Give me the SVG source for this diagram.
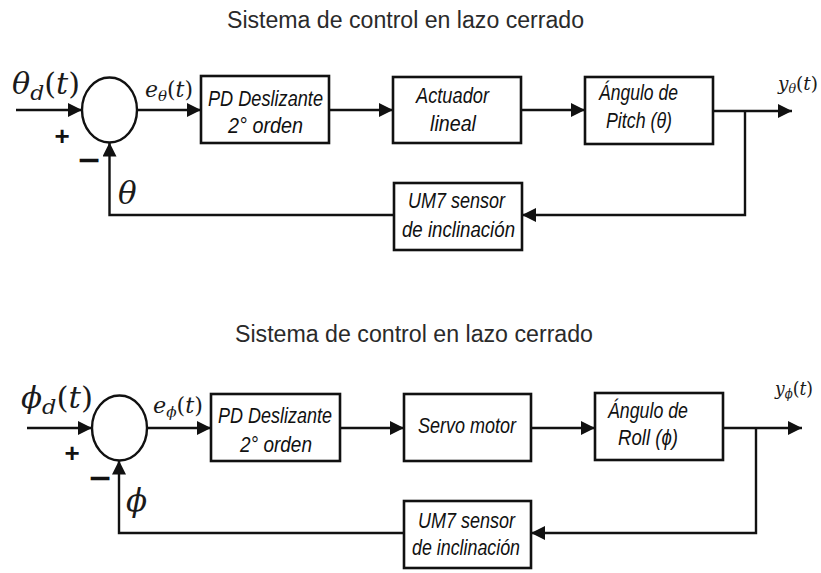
<svg xmlns="http://www.w3.org/2000/svg" width="821" height="573" viewBox="0 0 821 573">
<style>
.bg{fill:#ffffff}
.box{fill:#ffffff;stroke:#111;stroke-width:2.6}
.sum{fill:#ffffff;stroke:#111;stroke-width:2.4}
.wire{fill:none;stroke:#111;stroke-width:2.4}
.title{font-family:"Liberation Sans",Arial,sans-serif;font-size:23.5px;fill:#2a2a2a}
.lbl{font-family:"Liberation Sans",Arial,sans-serif;font-size:22px;font-style:italic;fill:#111;text-anchor:middle}
.math{font-family:"DejaVu Serif","Liberation Serif",serif;font-weight:normal;fill:#1a1a1a}
.it{font-style:italic}
.sign{font-family:"Liberation Sans",Arial,sans-serif;font-weight:bold;font-size:26px;fill:#111;text-anchor:middle}
.minus{font-family:"DejaVu Sans",sans-serif;font-weight:bold;font-size:30px;fill:#111;text-anchor:middle}
</style>
<defs>
<marker id="arr" markerUnits="userSpaceOnUse" markerWidth="15" markerHeight="14" refX="14" refY="7" orient="auto">
<path d="M0,0 L14,7 L0,14 z" fill="#111"/>
</marker>
</defs>
<rect class="bg" x="0" y="0" width="821" height="573"/>

<!-- Top diagram -->
<text class="title" x="227" y="28" textLength="357" lengthAdjust="spacingAndGlyphs">Sistema de control en lazo cerrado</text>

<g id="connectors-top">
<path class="wire" d="M16,110 H82" marker-end="url(#arr)"/>
<path class="wire" d="M137,110 H201" marker-end="url(#arr)"/>
<path class="wire" d="M329,110 H393" marker-end="url(#arr)"/>
<path class="wire" d="M521,110 H585" marker-end="url(#arr)"/>
<path class="wire" d="M713,111 H792" marker-end="url(#arr)"/>
<path class="wire" d="M745,111 V215 H522" marker-end="url(#arr)"/>
<path class="wire" d="M394,215 H109.5 V142.5" marker-end="url(#arr)"/>
</g>

<g id="sum-top">
<ellipse class="sum" cx="109.5" cy="110" rx="27.5" ry="32.5"/>
<text class="sign" x="62" y="145">+</text>
<text class="minus" x="89" y="170">−</text>
</g>

<g id="pd-top">
<rect class="box" x="201" y="76" width="128" height="67"/>
<text class="lbl" x="265.5" y="106" textLength="115" lengthAdjust="spacingAndGlyphs">PD Deslizante</text>
<text class="lbl" x="265.5" y="133" textLength="75" lengthAdjust="spacingAndGlyphs">2° orden</text>
</g>

<g id="actuador">
<rect class="box" x="393" y="77" width="128" height="66"/>
<text class="lbl" x="452.5" y="103" textLength="73" lengthAdjust="spacingAndGlyphs">Actuador</text>
<text class="lbl" x="453" y="131" textLength="46" lengthAdjust="spacingAndGlyphs">lineal</text>
</g>

<g id="pitch">
<rect class="box" x="585" y="77" width="128" height="67"/>
<text class="lbl" x="638.5" y="100" textLength="79" lengthAdjust="spacingAndGlyphs">Ángulo de</text>
<text class="lbl" x="639" y="128" textLength="66" lengthAdjust="spacingAndGlyphs">Pitch (θ)</text>
</g>

<g id="sensor-top">
<rect class="box" x="394" y="183" width="128" height="67"/>
<text class="lbl" x="456.5" y="208" textLength="97" lengthAdjust="spacingAndGlyphs">UM7 sensor</text>
<text class="lbl" x="458.5" y="237" textLength="113" lengthAdjust="spacingAndGlyphs">de inclinación</text>
</g>

<g id="math-top">
<text class="math" x="12" y="94" font-size="29" textLength="68" lengthAdjust="spacingAndGlyphs"><tspan class="it">θ</tspan><tspan class="it" font-size="21" dy="6">d</tspan><tspan dy="-6">(</tspan><tspan class="it">t</tspan>)</text>
<text class="math" x="145" y="97" font-size="22" textLength="48" lengthAdjust="spacingAndGlyphs"><tspan class="it">e</tspan><tspan class="it" font-size="15" dy="4">θ</tspan><tspan dy="-4">(</tspan><tspan class="it">t</tspan>)</text>
<text class="math" x="778" y="90" font-size="19" textLength="40" lengthAdjust="spacingAndGlyphs"><tspan class="it">y</tspan><tspan class="it" font-size="13" dy="3">θ</tspan><tspan dy="-3">(</tspan><tspan class="it">t</tspan>)</text>
<text class="math it" x="118" y="204" font-size="31">θ</text>
</g>

<!-- Bottom diagram -->
<text class="title" x="235" y="342" textLength="358" lengthAdjust="spacingAndGlyphs">Sistema de control en lazo cerrado</text>

<g id="connectors-bottom">
<path class="wire" d="M27,428 H92" marker-end="url(#arr)"/>
<path class="wire" d="M147,428 H211" marker-end="url(#arr)"/>
<path class="wire" d="M340,428 H404" marker-end="url(#arr)"/>
<path class="wire" d="M531,428 H595" marker-end="url(#arr)"/>
<path class="wire" d="M723,428 H802" marker-end="url(#arr)"/>
<path class="wire" d="M756,428 V533 H531" marker-end="url(#arr)"/>
<path class="wire" d="M404,533 H119 V460.5" marker-end="url(#arr)"/>
</g>

<g id="sum-bottom">
<ellipse class="sum" cx="119.5" cy="428" rx="27.5" ry="32.5"/>
<text class="sign" x="72" y="462">+</text>
<text class="minus" x="100" y="488">−</text>
</g>

<g id="pd-bottom">
<rect class="box" x="211" y="394" width="129" height="67"/>
<text class="lbl" x="275" y="423" textLength="114" lengthAdjust="spacingAndGlyphs">PD Deslizante</text>
<text class="lbl" x="276" y="452" textLength="72" lengthAdjust="spacingAndGlyphs">2° orden</text>
</g>

<g id="servo">
<rect class="box" x="404" y="394" width="127" height="67"/>
<text class="lbl" x="467" y="433" textLength="98" lengthAdjust="spacingAndGlyphs">Servo motor</text>
</g>

<g id="roll">
<rect class="box" x="595" y="393" width="128" height="67"/>
<text class="lbl" x="648" y="418" textLength="80" lengthAdjust="spacingAndGlyphs">Ángulo de</text>
<text class="lbl" x="648" y="445" textLength="60" lengthAdjust="spacingAndGlyphs">Roll (ϕ)</text>
</g>

<g id="sensor-bottom">
<rect class="box" x="404" y="501" width="127" height="67"/>
<text class="lbl" x="466.5" y="528" textLength="97" lengthAdjust="spacingAndGlyphs">UM7 sensor</text>
<text class="lbl" x="466" y="555" textLength="108" lengthAdjust="spacingAndGlyphs">de inclinación</text>
</g>

<g id="math-bottom">
<text class="math" x="21" y="408" font-size="29" textLength="72" lengthAdjust="spacingAndGlyphs"><tspan class="it">ϕ</tspan><tspan class="it" font-size="21" dy="6">d</tspan><tspan dy="-6">(</tspan><tspan class="it">t</tspan>)</text>
<text class="math" x="153" y="413" font-size="22" textLength="50" lengthAdjust="spacingAndGlyphs"><tspan class="it">e</tspan><tspan class="it" font-size="15" dy="4">ϕ</tspan><tspan dy="-4">(</tspan><tspan class="it">t</tspan>)</text>
<text class="math" x="775" y="395" font-size="19" textLength="38" lengthAdjust="spacingAndGlyphs"><tspan class="it">y</tspan><tspan class="it" font-size="13" dy="3">ϕ</tspan><tspan dy="-3">(</tspan><tspan class="it">t</tspan>)</text>
<text class="math it" x="126" y="511" font-size="31">ϕ</text>
</g>
</svg>
